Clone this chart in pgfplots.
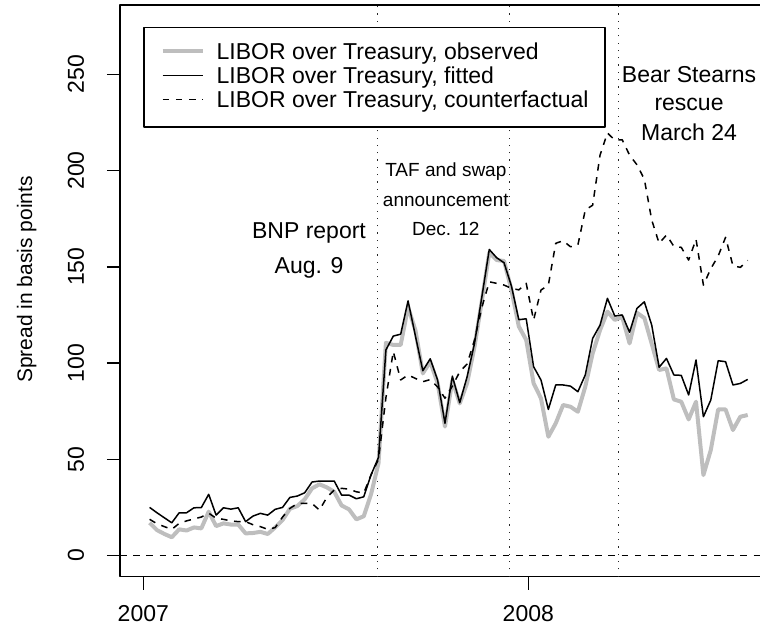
\documentclass[border=0pt]{standalone}
\usepackage{fontspec}
\setmainfont{Liberation Sans}
\usepackage{pgfplots}
\usepackage{pgfplotstable}
\pgfplotsset{compat=1.18}
\definecolor{rgray}{RGB}{190,190,190}

\pgfplotstableread{
d obs fit cf
6 17 25 18.8
13 13.2 22.2 16.5
20 11.2 19.6 15
27 9.5 17 13.6
34 13.6 22.2 16.7
41 13 22.2 18
48 14.6 24.8 19
55 14.1 24.9 20
62 22.8 31.8 22
69 15.3 21 19.4
76 16.7 24.8 18.8
83 16.1 24.1 18
90 16.1 24.8 17.6
97 11.5 17.6 17.6
104 11.7 20.5 16
111 12.3 21.9 15
118 11.2 21 13.6
125 14.6 24 14.5
132 18.4 25 20
139 24.3 30.2 24.5
146 25.7 30.9 27
153 29.2 32.6 27.1
160 34.9 38.2 27
167 37 38.7 23.6
174 35.4 38.7 30.2
181 33.1 38.7 34
188 26 31.4 34.9
195 24 31.4 34.5
202 18.8 29.5 33.1
209 20.4 30.5 32.5
216 32 42 42
223 48 51 50
230 110.5 106.8 82
237 109.4 114 106
244 109.4 115 91.2
251 129 132.3 93.8
258 117 114 92
265 94.6 96 90.3
272 100.7 102.2 91.4
279 89.6 91.2 87.6
286 67 68.7 81.7
293 91 93.2 88
300 79 79.4 95.5
307 89.6 92.9 99.5
314 108.5 110.2 112
321 132.5 134.5 129
328 157.4 159 142.2
335 153.5 154.7 141.4
342 153 152.1 140.5
349 138 140 138.8
356 119 122.5 138
363 112 123 141.4
370 89.5 98.1 122.3
377 81.7 91.2 137.9
384 61.7 75.9 140.5
391 68.7 88.6 162.2
398 78.2 88.6 163.5
405 77.3 88 160.4
412 74.7 85.1 161.3
419 87.7 93.8 179.5
426 105 112.8 182
433 117.1 119.7 208
440 126.7 133.6 219.5
447 122.4 124.4 215.8
454 124 125 216
461 110.2 116 208
468 126.1 128.4 203
475 123.4 131.8 195.5
482 110 119.7 174.3
489 96.4 97.8 162.2
496 97.2 102.4 166.5
503 81.1 93.8 160.6
510 79.9 93.6 160.1
517 70.7 83.4 153.5
524 79.9 101.6 164.3
531 41.8 72.1 140.5
538 54.8 80.8 149
545 75.9 101.2 155.6
552 75.9 100.7 165.3
559 65.2 88.6 150.5
566 72.1 89.4 149.7
573 73 91.5 153.3
}\spread

\begin{document}
\fontsize{11.5}{13.8}\selectfont
\begin{tikzpicture}
\begin{axis}[
  scale only axis, width=322.5pt, height=285.85pt,
  at={(60pt,28.15pt)}, anchor=south west,
  xmin=-22.09, xmax=589.4, ymin=-11, ymax=286,
  axis line style={line width=0.75pt},
  tick align=outside, tick pos=left, major tick length=6.5pt,
  tick style={black, line width=0.75pt},
  xtick={0,365}, xticklabels={2007,2008},
  ytick={0,50,100,150,200,250},
  /pgf/number format/assume math mode=true,
  yticklabel style={xshift=-11.5pt, rotate=90, anchor=base},
  xticklabel style={anchor=base, yshift=-16pt},
  ylabel={Spread in basis points},
  every axis y label/.style={at={(axis description cs:-0.1364,0.52)}, rotate=90, anchor=base,
    font=\fontsize{10.5}{12.6}\selectfont},
  legend style={at={(0.0361,0.962)}, anchor=north west, draw=black, line width=0.75pt,
    fill=white, inner xsep=8.3pt, inner ysep=7.5pt,
    nodes={inner sep=0pt, text height=8.3pt, text depth=2.4pt, anchor=base west},
    row sep=1.3pt, column sep=6pt},
  legend cell align=left,
  legend image code/.code={\draw[#1] (0pt,3.9pt) -- (20pt,3.9pt);},
  line join=round,
]
\addplot[forget plot, black!85, line width=0.6pt, dash pattern=on 0.6pt off 3.05pt]
  coordinates {(222.2,-11) (222.2,286)};
\addplot[forget plot, black!85, line width=0.6pt, dash pattern=on 0.6pt off 3.05pt]
  coordinates {(347,-11) (347,286)};
\addplot[forget plot, black!85, line width=0.6pt, dash pattern=on 0.6pt off 3.05pt]
  coordinates {(450.3,-11) (450.3,286)};
\addplot[forget plot, black, line width=0.75pt, dash pattern=on 3.3pt off 3.3pt]
  coordinates {(-22.09,0) (589.4,0)};
\addplot[rgray, line width=2pt] table[x=d, y=obs] {\spread};
\addlegendentry{LIBOR over Treasury, observed}
\addplot[black, line width=0.75pt] table[x=d, y=fit] {\spread};
\addlegendentry{LIBOR over Treasury, fitted}
\addplot[black, line width=0.75pt, dash pattern=on 3.3pt off 3.3pt] table[x=d, y=cf] {\spread};
\addlegendentry{LIBOR over Treasury, counterfactual}
\node[anchor=base] at (axis cs:157.1,164.8) {BNP report};
\node[anchor=base] at (axis cs:157.1,146.6) {Aug. 9};
\node[anchor=base, font=\fontsize{9.5}{11}\selectfont] at (axis cs:286.8,197.1) {TAF and swap};
\node[anchor=base, font=\fontsize{9.5}{11}\selectfont] at (axis cs:286.8,181.2) {announcement};
\node[anchor=base, font=\fontsize{9.5}{11}\selectfont] at (axis cs:286.8,166) {Dec. 12};
\node[anchor=base] at (axis cs:517.4,245.6) {Bear Stearns};
\node[anchor=base] at (axis cs:517.4,231.4) {rescue};
\node[anchor=base] at (axis cs:517.4,215.8) {March 24};
\end{axis}
\pgfresetboundingbox
\path[use as bounding box] (0,0) rectangle (380pt,316.5pt);
\end{tikzpicture}
\end{document}
